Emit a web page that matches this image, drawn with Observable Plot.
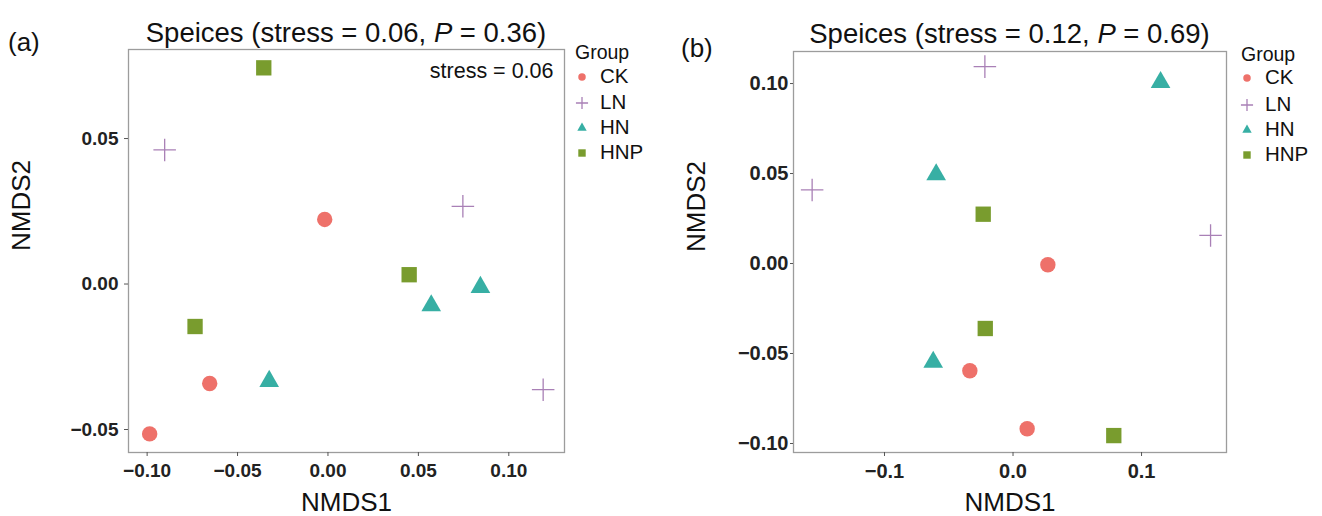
<!DOCTYPE html>
<html>
<head>
<meta charset="utf-8">
<script src="https://cdn.jsdelivr.net/npm/d3@7"></script>
<script src="https://cdn.jsdelivr.net/npm/@observablehq/plot@0.6"></script>
<style>
  html, body { margin: 0; padding: 0; background: #fff; }
  #root { position: relative; width: 1322px; height: 516px; overflow: hidden; background: #fff;
          font-family: "Liberation Sans", Arial, sans-serif; color: #111; }
  .abs { position: absolute; white-space: nowrap; line-height: 1; }
  .title { font-size: 27.5px; text-align: center; }
  .tag { font-size: 26px; }
  .lg-title { font-size: 19.5px; }
  .lg-label { font-size: 20.5px; }
  #root svg g[aria-label$="tick label"] text { font-weight: bold; }
</style>
</head>
<body>
<div id="root"></div>
<script>
// ---------- data ----------
const groupNames = ["CK", "LN", "HN", "HNP"];
const groupColors = ["#EE716A", "#A980B6", "#37AFA4", "#799C2E"];
const groupSymbols = ["circle", "plus", "triangle", "square"];

// Panel (a)
const groupsA = ["CK","CK","CK","LN","LN","LN","HN","HN","HN","HNP","HNP","HNP"];
const nmds1A = [-0.0018, -0.0654, -0.0986, -0.0903, 0.0746, 0.1190, 0.0571, 0.0843, -0.0325, -0.0355, 0.0449, -0.0735];
const nmds2A = [ 0.0222, -0.0342, -0.0515,  0.0461, 0.0267, -0.0363, -0.0074, -0.0011, -0.0334, 0.0743, 0.0032, -0.0146];
const ticksXA = [-0.10, -0.05, 0.00, 0.05, 0.10];
const ticksYA = [-0.05, 0.00, 0.05];
const titleA = ["Speices (stress = 0.06, ", "P", " = 0.36)"];
const annotA = "stress = 0.06";

// Panel (b)
const groupsB = ["CK","CK","CK","LN","LN","LN","HN","HN","HN","HNP","HNP","HNP"];
const nmds1B = [0.0271, -0.0336, 0.0110, -0.0219, -0.1563, 0.1537, 0.1148, -0.0598, -0.0621, -0.0232, -0.0216, 0.0784];
const nmds2B = [-0.0007, -0.0596, -0.0918, 0.1094, 0.0409, 0.0156, 0.1007, 0.0494, -0.0548, 0.0274, -0.0361, -0.0956];
const ticksXB = [-0.1, 0.0, 0.1];
const ticksYB = [-0.10, -0.05, 0.00, 0.05, 0.10];
const titleB = ["Speices (stress = 0.12, ", "P", " = 0.69)"];

// ---------- styling ----------
const dotR = {circle: 7.7, plus: 7.3, triangle: 7.3, square: 8.65};
const legendSize = {circle: 44, plus: 50, triangle: 38, square: 55};
const d3Sym = {circle: d3.symbolCircle, plus: d3.symbolPlus, triangle: d3.symbolTriangle, square: d3.symbolSquare};

const root = document.getElementById("root");

function rows(groups, xs, ys) {
  return groups.map((g, i) => ({group: g, x: xs[i], y: ys[i]}));
}

function panel(cfg) {
  const data = rows(cfg.groups, cfg.xs, cfg.ys);
  const marks = [
    Plot.frame({stroke: "#9c9c9c", strokeWidth: 1.3}),
    Plot.axisX({ticks: cfg.ticksX, tickFormat: d3.format(cfg.fx), tickSize: 4, tickPadding: cfg.padX,
                fontSize: cfg.tickFont, label: null, stroke: "#555", fill: "#222"}),
    Plot.axisY({ticks: cfg.ticksY, tickFormat: d3.format(".2f"), tickSize: cfg.tickSizeY, tickPadding: cfg.padY,
                fontSize: cfg.tickFont, label: null, stroke: "#555", fill: "#222"}),
    Plot.text(["NMDS1"], {frameAnchor: "bottom", dy: 50, lineAnchor: "middle", fontSize: 26, fill: "#111"}),
    Plot.text(["NMDS2"], {frameAnchor: "left", dx: cfg.ylabDx, rotate: -90, lineAnchor: "middle", fontSize: 26, fill: "#111"})
  ];
  groupNames.forEach((g, i) => {
    const sym = groupSymbols[i];
    const isStroke = sym === "plus";
    marks.push(Plot.dot(data.filter(d => d.group === g), {
      x: "x", y: "y", symbol: sym, r: dotR[sym],
      fill: isStroke ? "none" : groupColors[i],
      stroke: isStroke ? groupColors[i] : "none",
      strokeWidth: isStroke ? 1.3 : 0
    }));
  });
  if (cfg.annot) {
    marks.push(Plot.text([cfg.annot], {frameAnchor: "top-right", dx: -11, dy: 13, lineAnchor: "top",
                                        textAnchor: "end", fontSize: 21.5, fill: "#111"}));
  }
  const svg = Plot.plot({
    width: cfg.width, height: 516,
    marginLeft: cfg.ml, marginRight: cfg.mr, marginTop: cfg.mt, marginBottom: 516 - cfg.bottom,
    x: {domain: cfg.domX},
    y: {domain: cfg.domY},
    style: {fontFamily: '"Liberation Sans", Arial, sans-serif', background: "transparent", overflow: "visible"},
    marks
  });
  svg.style.position = "absolute";
  svg.style.left = cfg.left + "px";
  svg.style.top = "0px";
  root.appendChild(svg);

  // title
  const t = document.createElement("div");
  t.className = "abs title";
  t.style.left = (cfg.left + cfg.ml) + "px";
  t.style.width = (cfg.width - cfg.ml - cfg.mr) + "px";
  t.style.top = cfg.titleTop + "px";
  t.innerHTML = cfg.title[0] + "<i>" + cfg.title[1] + "</i>" + cfg.title[2];
  root.appendChild(t);

  // tag
  const tg = document.createElement("div");
  tg.className = "abs tag";
  tg.style.left = cfg.tagX + "px";
  tg.style.top = cfg.tagY + "px";
  tg.textContent = cfg.tag;
  root.appendChild(tg);

  // legend
  const lt = document.createElement("div");
  lt.className = "abs lg-title";
  lt.style.left = cfg.lgX + "px";
  lt.style.top = (cfg.lgTitleY - 10) + "px";
  lt.textContent = "Group";
  root.appendChild(lt);
  groupNames.forEach((g, i) => {
    const cy = cfg.lgRows[i];
    const s = d3.create("svg").attr("width", 20).attr("height", 20)
      .style("position", "absolute").style("left", (cfg.lgSymX - 10) + "px").style("top", (cy - 10) + "px")
      .style("overflow", "visible");
    const sym = groupSymbols[i];
    const isStroke = sym === "plus";
    s.append("path").attr("transform", "translate(10,10)")
      .attr("d", d3.symbol(d3Sym[sym], legendSize[sym])())
      .attr("fill", isStroke ? "none" : groupColors[i])
      .attr("stroke", isStroke ? groupColors[i] : "none")
      .attr("stroke-width", 1.3);
    root.appendChild(s.node());
    const lb = document.createElement("div");
    lb.className = "abs lg-label";
    lb.style.left = cfg.lgLabelX + "px";
    lb.style.top = (cy - 11) + "px";
    lb.textContent = g;
    root.appendChild(lb);
  });
}

panel({
  groups: groupsA, xs: nmds1A, ys: nmds2A, ticksX: ticksXA, ticksY: ticksYA, fx: ".2f",
  left: 0, width: 570, ml: 128, mr: 6, mt: 49, bottom: 452,
  domX: [-0.1103, 0.1308], domY: [-0.0579, 0.0806],
  tickFont: 19, padX: 7, padY: 6, tickSizeY: 4, ylabDx: -107,
  annot: annotA, title: titleA, titleTop: 19, tag: "(a)", tagX: 8, tagY: 29,
  lgX: 575, lgTitleY: 53, lgSymX: 582, lgLabelX: 600, lgRows: [77, 103, 128, 153]
});

panel({
  groups: groupsB, xs: nmds1B, ys: nmds2B, ticksX: ticksXB, ticksY: ticksYB, fx: ".1f",
  left: 660, width: 580, ml: 133, mr: 14, mt: 51, bottom: 452,
  domX: [-0.1708, 0.1661], domY: [-0.105, 0.1178],
  tickFont: 20, padX: 7, padY: 2, tickSizeY: 3, ylabDx: -97,
  annot: null, title: titleB, titleTop: 20, tag: "(b)", tagX: 681, tagY: 35,
  lgX: 1241, lgTitleY: 55, lgSymX: 1247, lgLabelX: 1265, lgRows: [78, 105, 130, 155]
});
</script>
</body>
</html>
